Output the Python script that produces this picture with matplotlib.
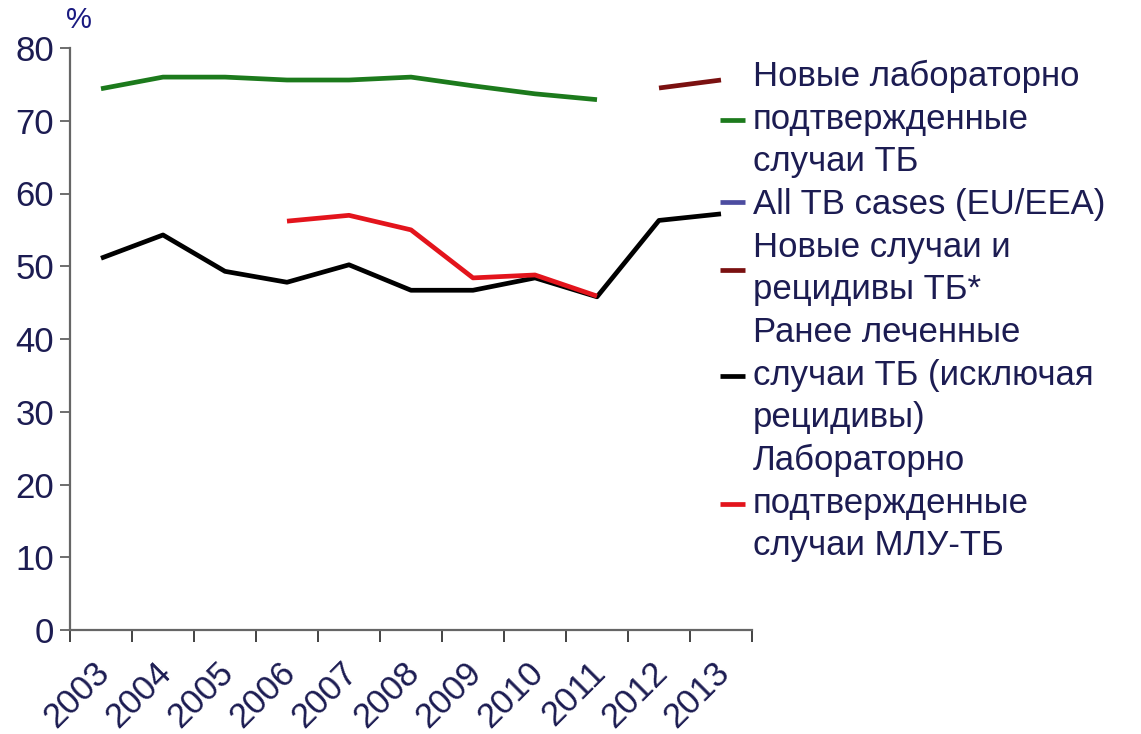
import matplotlib
matplotlib.use("Agg")
import matplotlib.pyplot as plt
import numpy as np
from matplotlib.transforms import ScaledTranslation

plt.rcParams['font.family'] = ['Liberation Sans', 'DejaVu Sans']

years = ["2003", "2004", "2005", "2006", "2007", "2008", "2009", "2010", "2011", "2012", "2013"]
new_lab_confirmed = [74.4, 76.0, 76.0, 75.6, 75.6, 76.0, 74.8, 73.7, 72.9, None, None]
all_tb_eu = [None] * 11
new_and_relapse = [None, None, None, None, None, None, None, None, None, 74.5, 75.6]
prev_treated = [51.1, 54.3, 49.3, 47.8, 50.2, 46.7, 46.7, 48.4, 45.8, 56.3, 57.2]
mdr_lab = [None, None, None, 56.2, 57.0, 55.0, 48.4, 48.8, 45.9, None, None]

labels = ["Новые лабораторно\nподтвержденные\nслучаи ТБ",
          "All TB cases (EU/EEA)",
          "Новые случаи и\nрецидивы ТБ*",
          "Ранее леченные\nслучаи ТБ (исключая\nрецидивы)",
          "Лабораторно\nподтвержденные\nслучаи МЛУ-ТБ"]
colors = ["#1c7a1c", "#4c4ca0", "#7a1010", "#000000", "#e3141c"]
series = [new_lab_confirmed, all_tb_eu, new_and_relapse, prev_treated, mdr_lab]

txt = "#1c1c52"
fig = plt.figure(figsize=(11.41, 7.34), dpi=100)
ax = fig.add_axes([70/1141, 1-630/734, (752-70)/1141, (630-48)/734])

x = np.arange(len(years))
handles = []
for vals, c, lab in zip(series, colors, labels):
    y = np.array([np.nan if v is None else v for v in vals], dtype=float)
    ln, = ax.plot(x, y, color=c, lw=3.4, solid_capstyle='butt', label=lab)
    handles.append(ln)

ax.set_xlim(-0.5, len(years) - 0.5)
ax.set_ylim(0, 80)
ax.set_yticks(np.arange(0, 81, 10))
ax.set_xticks(np.arange(-0.5, len(years), 1.0))
ax.set_xticklabels([])
ax.set_xticks(x, minor=True)
ax.set_xticklabels(years, minor=True, rotation=45, ha='right', va='center',
                   rotation_mode='anchor', fontsize=25, color=txt)
ax.tick_params(axis='x', which='minor', length=0, pad=27)
ax.tick_params(axis='x', which='major', length=8.5, width=1.2, color='#222222', direction='out')
ax.tick_params(axis='y', length=7.5, width=1.2, color='#555555', labelsize=25, labelcolor=txt, pad=4)
shift = ScaledTranslation(3/100, 0, fig.dpi_scale_trans)
for lbl in ax.get_xticklabels(minor=True):
    lbl.set_transform(lbl.get_transform() + shift)

for s in ['top', 'right']:
    ax.spines[s].set_visible(False)
for s in ['left', 'bottom']:
    ax.spines[s].set_color('#666666')
    ax.spines[s].set_linewidth(1.6)

fig.text(66/1141, 1-6/734, "%", fontsize=21, color="#1a1a80", va='top', ha='left')

leg = fig.legend(handles=handles, loc='upper left', bbox_to_anchor=(720/1141, 1-60/734),
                 frameon=False, fontsize=25, labelspacing=0.29, handlelength=0.72,
                 handletextpad=0.22, borderpad=0, borderaxespad=0)
for t in leg.get_texts():
    t.set_color(txt)
    t.set_linespacing(1.36)

fig.savefig("out.png", dpi=100)
